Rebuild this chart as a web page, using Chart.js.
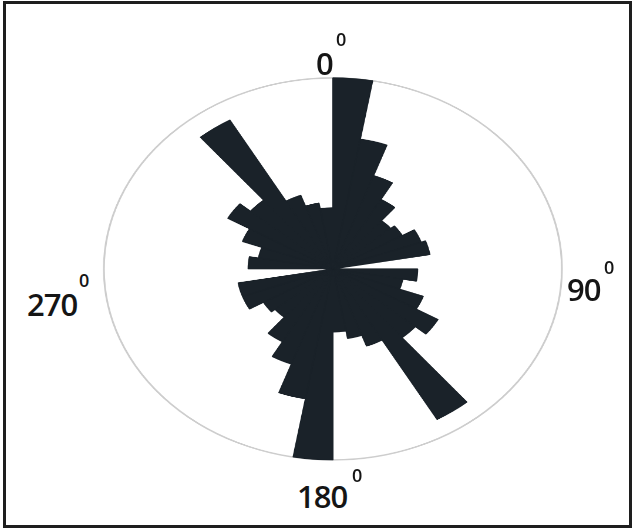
<!DOCTYPE html>
<html>
<head>
<meta charset="utf-8">
<script src="https://cdn.jsdelivr.net/npm/chart.js@4/dist/chart.umd.min.js"></script>
<style>
  html, body { margin:0; padding:0; background:#fff; }
  body { width:633px; height:530px; position:relative; overflow:hidden; font-family:"Open Sans", Lato, sans-serif; }
  #cadre { position:absolute; left:3px; top:1px; width:629px; height:527px; box-sizing:border-box; border:3px solid #1e1e1e; }
  #rose { position:absolute; left:98.1px; top:73.1px; width:400px; height:400px; transform-origin:0 0; transform:scale(1.1744, 0.9795); }
  .lbl { position:absolute; line-height:1; color:#151515; white-space:nowrap; font-weight:600; letter-spacing:-1px; }
  .big { font-size:31px; }
  .deg { font-size:18px; letter-spacing:0; }
</style>
</head>
<body>
<div id="cadre"></div>
<div id="rose"><canvas id="chartRose" width="400" height="400"></canvas></div>

<span class="lbl big" style="left:316px; top:48px">0</span>
<span class="lbl deg" style="left:336px; top:30px">0</span>
<span class="lbl big" style="left:567px; top:274px">90</span>
<span class="lbl deg" style="left:604px; top:258px">0</span>
<span class="lbl big" style="left:297px; top:481px">180</span>
<span class="lbl deg" style="left:352px; top:466px">0</span>
<span class="lbl big" style="left:27px; top:289px">270</span>
<span class="lbl deg" style="left:79px; top:271px">0</span>

<script>
// classes de 10°, dans le sens horaire depuis le nord
const secteurs = ['0-10','10-20','20-30','30-40','40-50','50-60','60-70','70-80','80-90',
  '90-100','100-110','110-120','120-130','130-140','140-150','150-160','160-170','170-180',
  '180-190','190-200','200-210','210-220','220-230','230-240','240-250','250-260','260-270',
  '270-280','280-290','290-300','300-310','310-320','320-330','330-340','340-350','350-360'];

// fréquences (en % de la classe la plus fournie)
const frequences = [100, 69, 52, 42, 33, 35, 41, 43, 0,
  37, 31, 42, 53, 47, 91, 43, 37, 33,
  100, 69, 53, 44, 33, 35, 42, 42, 0,
  37, 33, 42, 53, 47, 90, 41, 35, 32];

const frequenceMax = 100;
const couleurPetales = '#1a2229';

new Chart(document.getElementById('chartRose'), {
  type: 'polarArea',
  data: {
    labels: secteurs,
    datasets: [{
      data: frequences,
      backgroundColor: couleurPetales,
      borderColor: couleurPetales,
      borderWidth: 1
    }]
  },
  options: {
    responsive: false,
    devicePixelRatio: 2,
    animation: false,
    layout: { padding: 5 },
    plugins: { legend: { display: false }, tooltip: { enabled: false } },
    scales: {
      r: {
        min: 0,
        max: frequenceMax,
        startAngle: 0,
        ticks: { display: false, stepSize: frequenceMax },
        grid: { color: '#cdcdcd', lineWidth: 1.6 },
        angleLines: { display: false },
        pointLabels: { display: false }
      }
    }
  }
});
</script>
</body>
</html>
